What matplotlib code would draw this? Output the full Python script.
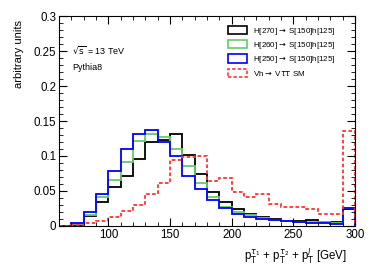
import numpy as np
import matplotlib.pyplot as plt
from matplotlib.patches import Patch
from matplotlib.ticker import MultipleLocator

plt.rcParams['font.family'] = ['Liberation Sans', 'DejaVu Sans']

# bin edges: 10 GeV bins from 60 to 300
edges = np.arange(60, 301, 10)

h270 = [0.0, 0.002, 0.014, 0.034, 0.055, 0.071, 0.095, 0.120, 0.123, 0.131,
        0.101, 0.074, 0.048, 0.034, 0.024, 0.017, 0.0133, 0.0105, 0.007, 0.007,
        0.0086, 0.005, 0.005, 0.024]
h260 = [0.0, 0.003, 0.0157, 0.042, 0.065, 0.091, 0.122, 0.131, 0.127, 0.110,
        0.086, 0.061, 0.041, 0.0276, 0.020, 0.0157, 0.012, 0.0086, 0.007, 0.0057,
        0.005, 0.006, 0.0048, 0.025]
h250 = [0.0, 0.0045, 0.0195, 0.045, 0.079, 0.110, 0.131, 0.137, 0.1195, 0.100,
        0.071, 0.053, 0.037, 0.025, 0.017, 0.0133, 0.0095, 0.0086, 0.0067, 0.005,
        0.0048, 0.0038, 0.0033, 0.025]
vh_sm = [0.0, 0.001, 0.0048, 0.0076, 0.0129, 0.022, 0.030, 0.046, 0.062, 0.094,
         0.099, 0.100, 0.064, 0.068, 0.049, 0.041, 0.046, 0.031, 0.0276, 0.0267,
         0.024, 0.017, 0.0167, 0.136]

labels = [r'H[270]$\rightarrow$ S[150]h[125]',
          r'H[260]$\rightarrow$ S[150]h[125]',
          r'H[250]$\rightarrow$ S[150]h[125]',
          r'Vh$\rightarrow$ V$\tau\tau$ SM']
colors = ['black', '#66cc66', '#0000ff', '#ff3333']
styles = ['-', '-', '-', (0, (2, 1.3))]

fig = plt.figure(figsize=(3.74, 2.68), dpi=100)
ax = fig.add_axes([0.158, 0.157, 0.791, 0.783])

for vals, c, ls in zip([h270, h260, h250, vh_sm], colors, styles):
    ax.stairs(vals, edges, color=c, linestyle=ls, linewidth=1.3, baseline=0)

ax.set_xlim(60, 300)
ax.set_ylim(0, 0.3)
ax.xaxis.set_major_locator(MultipleLocator(50))
ax.xaxis.set_minor_locator(MultipleLocator(10))
ax.yaxis.set_minor_locator(MultipleLocator(0.01))
ax.set_yticks(np.arange(0, 0.301, 0.05))
ax.set_yticklabels(['0', '0.05', '0.1', '0.15', '0.2', '0.25', '0.3'])
ax.tick_params(which='both', direction='in', top=True, right=True,
               labelsize=8.3, pad=2)
ax.tick_params(which='major', length=6)
ax.tick_params(which='minor', length=3)

ax.set_ylabel('arbitrary units', fontsize=8)
ax.yaxis.set_label_coords(-0.12, 0.82)
ax.set_xlabel(r'p$_{\mathrm{T}}^{\tau_1}$ + p$_{\mathrm{T}}^{\tau_2}$ + p$_{\mathrm{T}}^{l}$ [GeV]',
              fontsize=8.3, ha='right')
ax.xaxis.set_label_coords(0.973, -0.1)

ax.text(0.045, 0.837, r'$\sqrt{\mathrm{s}}$ = 13 TeV', transform=ax.transAxes,
        fontsize=6.5, va='center')
ax.text(0.045, 0.757, 'Pythia8', transform=ax.transAxes, fontsize=6.5,
        va='center')

handles = [Patch(facecolor='none', edgecolor=c, linestyle=ls, linewidth=1.2)
           for c, ls in zip(colors, styles)]
ax.legend(handles, labels, loc='upper left', bbox_to_anchor=(0.571, 0.955),
          frameon=False, fontsize=5.8, handlelength=2.4, handleheight=1.2,
          labelspacing=0.42, handletextpad=0.7, borderpad=0, borderaxespad=0)

fig.savefig('out.png', dpi=100)
